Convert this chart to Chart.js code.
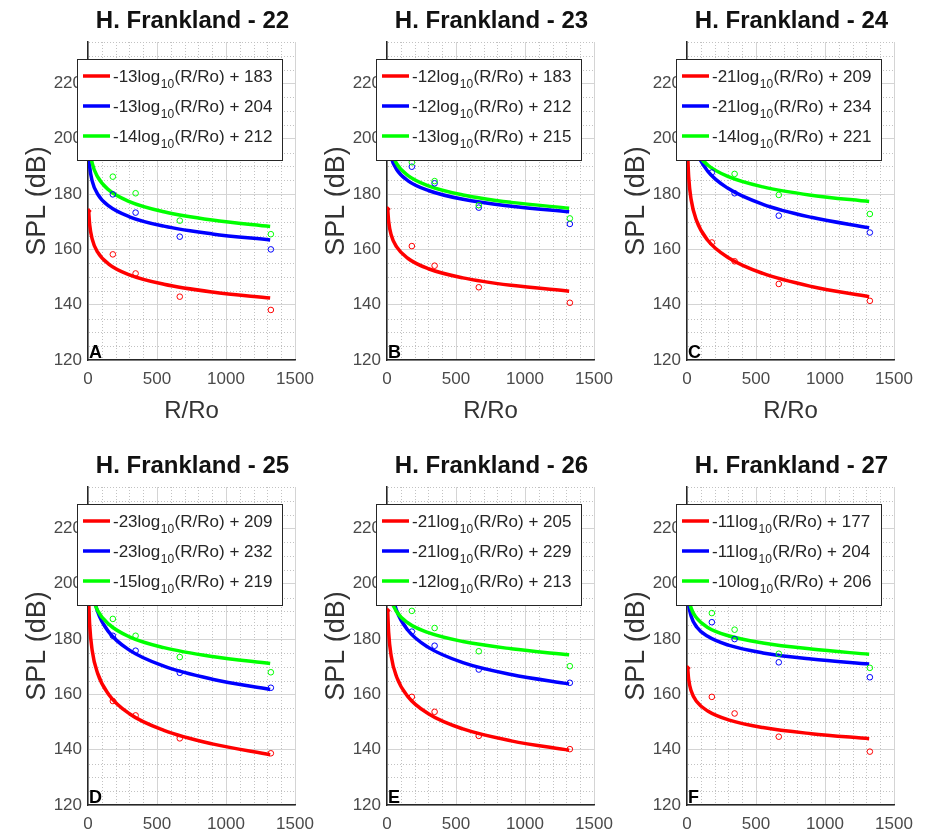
<!DOCTYPE html>
<html>
<head>
<meta charset="utf-8">
<script src="https://cdn.jsdelivr.net/npm/chart.js@4.4.0/dist/chart.umd.min.js"></script>
<style>
  html, body { margin: 0; padding: 0; background: #fff; }
  body { width: 925px; height: 838px; overflow: hidden; position: relative; }
  canvas { position: absolute; }
</style>
</head>
<body>
<canvas id="c0" width="330" height="419" style="left:0px;top:0px"></canvas>
<canvas id="c1" width="330" height="419" style="left:299px;top:0px"></canvas>
<canvas id="c2" width="330" height="419" style="left:599px;top:0px"></canvas>
<canvas id="c3" width="330" height="419" style="left:0px;top:445px"></canvas>
<canvas id="c4" width="330" height="419" style="left:299px;top:445px"></canvas>
<canvas id="c5" width="330" height="419" style="left:599px;top:445px"></canvas>
<script>
// R/Ro where the fitted curves are sampled, and where the measured points sit
var curveX = [5, 12, 30, 70, 150, 300, 550, 900, 1320];
var pointX = [180, 345, 665, 1325];

var xTicks = [0, 500, 1000, 1500];
var yTicks = [120, 140, 160, 180, 200, 220];
var xMinor = [100, 200, 300, 400, 600, 700, 800, 900, 1100, 1200, 1300, 1400];
var yMinor = [125, 130, 135, 145, 150, 155, 165, 170, 175, 185, 190, 195, 205, 210, 215, 225, 230, 235];

var titles = ['H. Frankland - 22', 'H. Frankland - 23', 'H. Frankland - 24',
              'H. Frankland - 25', 'H. Frankland - 26', 'H. Frankland - 27'];
var letters = ['A', 'B', 'C', 'D', 'E', 'F'];

// legend text: a log10(R/Ro) + b
var redSlope = [-13, -12, -21, -23, -21, -11];
var redConst = [183, 183, 209, 209, 205, 177];
var blueSlope = [-13, -12, -21, -23, -21, -11];
var blueConst = [204, 212, 234, 232, 229, 204];
var greenSlope = [-14, -13, -14, -15, -12, -10];
var greenConst = [212, 215, 221, 219, 213, 206];

// fitted curves (SPL dB at curveX)
var redFitA = [173.9, 169.0, 163.8, 159.0, 154.7, 150.8, 147.4, 144.6, 142.4];
var blueFitA = [194.9, 190.0, 184.8, 180.0, 175.7, 171.8, 168.4, 165.6, 163.4];
var greenFitA = [202.2, 196.9, 191.3, 186.2, 181.5, 177.3, 173.6, 170.6, 168.3];

var redFitB = [174.6, 170.1, 165.3, 160.9, 156.8, 153.0, 149.7, 147.0, 144.9];
var blueFitB = [202.6, 198.1, 193.3, 188.9, 184.9, 181.3, 178.1, 175.6, 173.6];
var greenFitB = [205.9, 201.0, 195.8, 191.0, 186.8, 183.0, 179.7, 177.0, 174.9];

var redFitC = [194.3, 186.3, 178.0, 170.3, 163.3, 157.0, 151.3, 146.6, 142.9];
var blueFitC = [219.3, 211.3, 203.0, 195.3, 188.3, 182.0, 176.3, 171.6, 167.8];
var greenFitC = [211.2, 205.9, 200.3, 195.2, 190.5, 186.3, 182.6, 179.6, 177.3];

var redFitD = [193.9, 185.2, 176.0, 167.6, 160.0, 153.0, 147.0, 142.1, 138.2];
var blueFitD = [215.1, 206.8, 198.0, 189.9, 182.6, 176.0, 170.2, 165.5, 161.8];
var greenFitD = [207.5, 201.8, 195.8, 190.3, 185.4, 180.8, 176.9, 173.7, 171.2];

var redFitE = [190.3, 182.3, 174.0, 166.3, 159.3, 153.0, 147.5, 143.2, 139.8];
var blueFitE = [214.3, 206.3, 198.0, 190.3, 183.3, 177.0, 171.5, 167.2, 163.8];
var greenFitE = [203.6, 199.1, 194.3, 189.9, 185.9, 182.3, 179.1, 176.5, 174.3];

var redFitF = [169.5, 165.5, 161.3, 157.4, 154.0, 150.8, 148.0, 145.8, 144.0];
var blueFitF = [196.5, 192.5, 188.3, 184.4, 181.0, 177.8, 175.0, 172.8, 171.0];
var greenFitF = [199.0, 195.2, 191.2, 187.6, 184.2, 181.2, 178.6, 176.4, 174.5];

// measured points (SPL dB at pointX)
var redPtsA = [158.2, 151.3, 142.9, 138.1];
var bluePtsA = [179.9, 173.3, 164.6, 160.0];
var greenPtsA = [186.3, 180.3, 170.4, 165.5];

var redPtsB = [161.2, 154.1, 146.3, 140.7];
var bluePtsB = [189.9, 183.9, 175.1, 169.2];
var greenPtsB = [191.5, 184.7, 176.0, 171.2];

var redPtsC = [162.5, 155.7, 147.5, 141.4];
var bluePtsC = [187.8, 180.3, 172.2, 166.1];
var greenPtsC = [194.0, 187.3, 179.7, 172.8];

var redPtsD = [157.6, 152.4, 144.1, 138.7];
var bluePtsD = [181.2, 175.8, 167.8, 162.4];
var greenPtsD = [187.3, 181.2, 173.5, 168.0];

var redPtsE = [159.1, 153.7, 145.0, 140.2];
var bluePtsE = [182.7, 177.6, 169.0, 164.2];
var greenPtsE = [190.2, 184.0, 175.6, 170.2];

var redPtsF = [159.1, 153.1, 144.7, 139.3];
var bluePtsF = [186.1, 180.0, 171.6, 166.2];
var greenPtsF = [189.4, 183.4, 174.7, 169.6];

var redFits = [redFitA, redFitB, redFitC, redFitD, redFitE, redFitF];
var blueFits = [blueFitA, blueFitB, blueFitC, blueFitD, blueFitE, blueFitF];
var greenFits = [greenFitA, greenFitB, greenFitC, greenFitD, greenFitE, greenFitF];
var redPts = [redPtsA, redPtsB, redPtsC, redPtsD, redPtsE, redPtsF];
var bluePts = [bluePtsA, bluePtsB, bluePtsC, bluePtsD, bluePtsE, bluePtsF];
var greenPts = [greenPtsA, greenPtsB, greenPtsC, greenPtsD, greenPtsE, greenPtsF];

var colors = ['#ff0000', '#0000ff', '#00ff00'];
var FONT = '"Liberation Sans", Arial, Helvetica, sans-serif';
Chart.defaults.font.family = FONT;

function drawLegend(ctx, i, area) {
  var rows = [[redSlope[i], redConst[i]], [blueSlope[i], blueConst[i]], [greenSlope[i], greenConst[i]]];
  var mainFont = '17px ' + FONT, subFont = '12px ' + FONT;
  ctx.save();
  var widths = rows.map(function (r) {
    ctx.font = mainFont;
    var w = ctx.measureText(r[0] + 'log').width + ctx.measureText('(R/Ro) + ' + r[1]).width;
    ctx.font = subFont;
    return w + ctx.measureText('10').width + 1;
  });
  var bx = Math.round(area.left - 11), by = Math.round(area.top + 17);
  var bw = Math.round(36 + Math.max.apply(null, widths) + 10), bh = 101;
  ctx.fillStyle = '#fff';
  ctx.fillRect(bx, by, bw, bh);
  ctx.strokeStyle = '#262626';
  ctx.lineWidth = 1;
  ctx.strokeRect(bx + 0.5, by + 0.5, bw, bh);
  rows.forEach(function (r, k) {
    var cy = by + 17 + k * 30;
    ctx.strokeStyle = colors[k];
    ctx.lineWidth = 3.5;
    ctx.beginPath();
    ctx.moveTo(bx + 6, cy);
    ctx.lineTo(bx + 33, cy);
    ctx.stroke();
    var tx = bx + 36, base = cy + 6;
    ctx.fillStyle = '#262626';
    ctx.textAlign = 'left';
    ctx.textBaseline = 'alphabetic';
    ctx.font = mainFont;
    var s1 = r[0] + 'log';
    ctx.fillText(s1, tx, base);
    tx += ctx.measureText(s1).width + 0.5;
    ctx.font = subFont;
    ctx.fillText('10', tx, base + 6);
    tx += ctx.measureText('10').width + 0.5;
    ctx.font = mainFont;
    ctx.fillText('(R/Ro) + ' + r[1], tx, base);
  });
  ctx.restore();
}

function panelPlugin(i) {
  return {
    id: 'panel' + i,
    beforeDatasetsDraw: function (chart) {
      // dotted minor grid
      var ctx = chart.ctx, a = chart.chartArea, xs = chart.scales.x, ys = chart.scales.y;
      ctx.save();
      ctx.strokeStyle = '#c2c2c2';
      ctx.lineWidth = 1;
      ctx.setLineDash([1, 2]);
      xMinor.forEach(function (v) {
        var px = Math.round(xs.getPixelForValue(v)) + 0.5;
        ctx.beginPath(); ctx.moveTo(px, a.top); ctx.lineTo(px, a.bottom - 1); ctx.stroke();
      });
      yMinor.forEach(function (v) {
        var py = Math.round(ys.getPixelForValue(v)) + 0.5;
        ctx.beginPath(); ctx.moveTo(a.left + 1, py); ctx.lineTo(a.right, py); ctx.stroke();
      });
      ctx.restore();
    },
    afterDraw: function (chart) {
      var ctx = chart.ctx, a = chart.chartArea;
      var cx = (a.left + a.right) / 2;
      ctx.save();
      ctx.textAlign = 'center';
      ctx.textBaseline = 'alphabetic';
      ctx.fillStyle = '#111';
      ctx.font = 'bold 24px ' + FONT;
      ctx.fillText(titles[i], cx + 1, a.top - 14);
      ctx.fillStyle = '#333';
      ctx.font = '24px ' + FONT;
      ctx.fillText('R/Ro', cx, a.bottom + 58);
      ctx.save();
      ctx.translate(a.left - 50, (a.top + a.bottom) / 2);
      ctx.rotate(-Math.PI / 2);
      ctx.textBaseline = 'middle';
      ctx.font = '27px ' + FONT;
      ctx.fillText('SPL (dB)', 0, 0);
      ctx.restore();
      ctx.textAlign = 'left';
      ctx.fillStyle = '#000';
      ctx.font = 'bold 18px ' + FONT;
      ctx.fillText(letters[i], a.left + 1, a.bottom - 2);
      ctx.restore();
      drawLegend(ctx, i, a);
    }
  };
}

function makeChart(i) {
  var fits = [redFits[i], blueFits[i], greenFits[i]];
  var pts = [redPts[i], bluePts[i], greenPts[i]];
  var datasets = [];
  fits.forEach(function (f, k) {
    datasets.push({
      data: curveX.map(function (x, j) { return { x: x, y: f[j] }; }),
      showLine: true,
      borderColor: colors[k],
      backgroundColor: colors[k],
      borderWidth: 3.5,
      cubicInterpolationMode: 'monotone',
      pointStyle: 'rectRot',
      pointRadius: function (c) { return c.dataIndex === 0 ? 3 : 0; },
      pointBorderWidth: 0,
      order: 6 - k
    });
  });
  pts.forEach(function (p, k) {
    datasets.push({
      data: pointX.map(function (x, j) { return { x: x, y: p[j] }; }),
      showLine: false,
      borderColor: colors[k],
      backgroundColor: 'rgba(0,0,0,0)',
      pointRadius: 2.8,
      pointBorderWidth: 1,
      order: 3 - k
    });
  });

  new Chart(document.getElementById('c' + i), {
    type: 'scatter',
    data: { datasets: datasets },
    options: {
      responsive: false,
      animation: false,
      events: [],
      layout: { padding: { top: 42, right: 35, bottom: 0, left: 0 } },
      plugins: { legend: { display: false }, tooltip: { enabled: false } },
      scales: {
        x: {
          type: 'linear', min: 0, max: 1500,
          afterBuildTicks: function (s) { s.ticks = xTicks.map(function (v) { return { value: v }; }); },
          afterFit: function (s) { s.height = 59; },
          grid: { color: '#d4d4d4', lineWidth: 1, drawTicks: false },
          border: { color: '#262626', width: 1.5 },
          ticks: {
            padding: 9, color: '#4a4a4a', font: { size: 17 }, maxRotation: 0, autoSkip: false,
            callback: function (v) { return String(v); }
          }
        },
        y: {
          type: 'linear', min: 120, max: 235,
          afterBuildTicks: function (s) { s.ticks = yTicks.map(function (v) { return { value: v }; }); },
          afterFit: function (s) { s.width = 88; },
          grid: { color: '#d4d4d4', lineWidth: 1, drawTicks: false },
          border: { color: '#262626', width: 1.5 },
          ticks: {
            padding: 6, color: '#4a4a4a', font: { size: 17 },
            callback: function (v) { return String(v); }
          }
        }
      }
    },
    plugins: [panelPlugin(i)]
  });
}

for (var i = 0; i < 6; i++) makeChart(i);
</script>
</body>
</html>
